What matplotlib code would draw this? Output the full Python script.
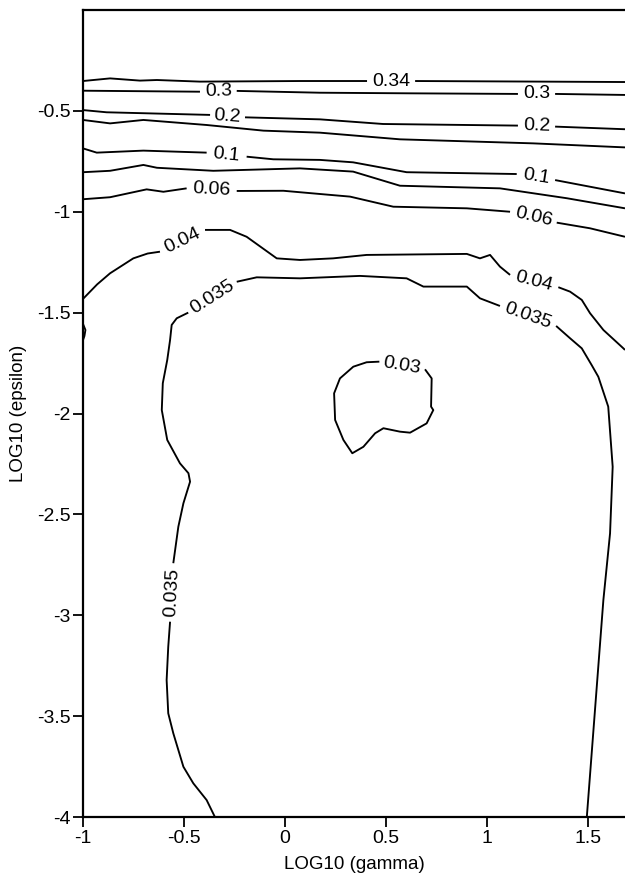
import numpy as np
import matplotlib
matplotlib.use("Agg")
import matplotlib.pyplot as plt

plt.rcParams['font.family'] = ['Liberation Sans', 'DejaVu Sans']

# contour lines as (log10 gamma, log10 epsilon) pieces; labels sit in the gaps
c034 = [
    [(-1.0, -0.352), (-0.866, -0.339), (-0.718, -0.350), (-0.634, -0.347), (-0.421, -0.355), (0.074, -0.352), (0.406, -0.352)],
    [(0.644, -0.352), (1.064, -0.354), (1.683, -0.357)],
]
c03 = [
    [(-1.0, -0.400), (-0.421, -0.405)],
    [(-0.239, -0.401), (0.173, -0.410), (0.619, -0.413), (1.153, -0.416)],
    [(1.337, -0.416), (1.683, -0.421)],
]
c02 = [
    [(-1.0, -0.496), (-0.883, -0.507), (-0.371, -0.520)],
    [(-0.198, -0.532), (0.173, -0.542), (0.485, -0.565), (1.153, -0.573)],
    [(1.337, -0.578), (1.683, -0.591)],
]
c015 = [
    [(-1.0, -0.545), (-0.866, -0.562), (-0.701, -0.545), (-0.388, -0.570), (-0.107, -0.598), (0.173, -0.608),
     (0.569, -0.641), (1.228, -0.661), (1.683, -0.681)],
]
c01 = [
    [(-1.0, -0.686), (-0.932, -0.707), (-0.701, -0.697), (-0.388, -0.707)],
    [(-0.190, -0.727), (-0.058, -0.740), (0.173, -0.743), (0.337, -0.755), (0.602, -0.804), (1.147, -0.813)],
    [(1.337, -0.843), (1.683, -0.909)],
]
c008 = [
    [(-1.0, -0.804), (-0.866, -0.797), (-0.701, -0.768), (-0.634, -0.782), (-0.355, -0.797), (0.074, -0.785),
     (0.337, -0.801), (0.569, -0.871), (1.064, -0.884), (1.395, -0.933), (1.683, -0.983)],
]
c006 = [
    [(-1.0, -0.938), (-0.866, -0.928), (-0.685, -0.889), (-0.602, -0.901), (-0.487, -0.884)],
    [(-0.239, -0.897), (-0.008, -0.896), (0.173, -0.912), (0.322, -0.925), (0.536, -0.975), (0.900, -0.983), (1.114, -1.000)],
    [(1.345, -1.054), (1.510, -1.082), (1.683, -1.124)],
]
c004 = [
    [(-1.0, -1.432), (-0.930, -1.360), (-0.866, -1.305), (-0.751, -1.231), (-0.680, -1.207), (-0.619, -1.198)],
    [(-0.396, -1.090), (-0.272, -1.090), (-0.190, -1.124), (-0.041, -1.231), (0.074, -1.239), (0.238, -1.231),
     (0.404, -1.214), (0.900, -1.209), (0.965, -1.231), (1.015, -1.214), (1.064, -1.272), (1.114, -1.313)],
    [(1.353, -1.374), (1.411, -1.396), (1.469, -1.437), (1.510, -1.503), (1.576, -1.586), (1.675, -1.677), (1.683, -1.685)],
]
c0035 = [
    [(-0.347, -4.0), (-0.388, -3.916), (-0.454, -3.833), (-0.503, -3.751), (-0.553, -3.585), (-0.578, -3.486),
     (-0.586, -3.321), (-0.578, -3.156), (-0.569, -3.032)],
    [(-0.553, -2.742), (-0.528, -2.561), (-0.503, -2.445), (-0.470, -2.338), (-0.478, -2.296), (-0.520, -2.247),
     (-0.583, -2.131), (-0.610, -1.983), (-0.605, -1.850), (-0.583, -1.735), (-0.569, -1.636), (-0.561, -1.561),
     (-0.536, -1.528), (-0.479, -1.500)],
    [(-0.239, -1.347), (-0.140, -1.325), (0.074, -1.330), (0.371, -1.318), (0.602, -1.330), (0.685, -1.371),
     (0.900, -1.371), (0.965, -1.429), (1.064, -1.467)],
    [(1.342, -1.566), (1.411, -1.627), (1.469, -1.677), (1.518, -1.760), (1.551, -1.818), (1.600, -1.966),
     (1.622, -2.264), (1.609, -2.594), (1.576, -2.924), (1.494, -4.0)],
]
# closed loop, starts right after its label
c003 = [
    [(0.693, -1.781), (0.726, -1.826), (0.723, -1.966), (0.734, -1.983), (0.701, -2.049), (0.619, -2.095),
     (0.569, -2.090), (0.487, -2.073), (0.446, -2.098), (0.388, -2.165), (0.333, -2.197), (0.289, -2.131),
     (0.248, -2.032), (0.243, -1.900), (0.272, -1.826), (0.338, -1.768), (0.404, -1.746), (0.467, -1.743)],
]
edge_bit = [[(-1.0, -1.556), (-0.988, -1.586), (-0.993, -1.616), (-1.0, -1.636)]]

labelled = [("0.34", c034, False), ("0.3", c03, False), ("0.2", c02, False), ("0.1", c01, False),
            ("0.06", c006, False), ("0.04", c004, False), ("0.035", c0035, False), ("0.03", c003, True)]
plain = [c015, c008, edge_bit]

xticks = [-1, -0.5, 0, 0.5, 1, 1.5]
xtick_labels = ["-1", "-0.5", "0", "0.5", "1", "1.5"]
yticks = [-4, -3.5, -3, -2.5, -2, -1.5, -1, -0.5]
ytick_labels = ["-4", "-3.5", "-3", "-2.5", "-2", "-1.5", "-1", "-0.5"]

fig = plt.figure(figsize=(6.25, 8.8), dpi=100)
ax = fig.add_axes([83 / 625, 63 / 880, 542 / 625, 807 / 880])
ax.set_xlim(-1, 1.683)
ax.set_ylim(-4, 0)


def draw_pieces(pieces):
    for seg in pieces:
        pts = np.array(seg)
        ax.plot(pts[:, 0], pts[:, 1], color="black", lw=1.35, solid_capstyle="butt", solid_joinstyle="round")


def gap_label(text, p_end, p_start):
    d0 = ax.transData.transform(p_end)
    d1 = ax.transData.transform(p_start)
    ang = np.degrees(np.arctan2(d1[1] - d0[1], d1[0] - d0[0]))
    if ang > 90:
        ang -= 180
    elif ang < -90:
        ang += 180
    ax.text((p_end[0] + p_start[0]) / 2, (p_end[1] + p_start[1]) / 2, text,
            rotation=ang, rotation_mode="anchor", ha="center", va="center", fontsize=14)


for text, pieces, closed in labelled:
    draw_pieces(pieces)
    for a, b in zip(pieces[:-1], pieces[1:]):
        gap_label(text, a[-1], b[0])
    if closed:
        gap_label(text, pieces[-1][-1], pieces[0][0])

for pieces in plain:
    draw_pieces(pieces)

ax.set_xticks(xticks)
ax.set_xticklabels(xtick_labels)
ax.set_yticks(yticks)
ax.set_yticklabels(ytick_labels)
ax.tick_params(direction="out", length=7, width=1.3, labelsize=14, pad=2)

for side in ["left", "bottom", "top"]:
    ax.spines[side].set_linewidth(1.6)
ax.spines["right"].set_visible(False)

fig.text(354 / 625, 1 - 869 / 880, "LOG10 (gamma)", ha="center", va="baseline", fontsize=13.5)
fig.text(19 / 625, 1 - 413 / 880, "LOG10 (epsilon)", ha="center", va="center", rotation=90, fontsize=13.5)

fig.savefig("out.png", dpi=100)
